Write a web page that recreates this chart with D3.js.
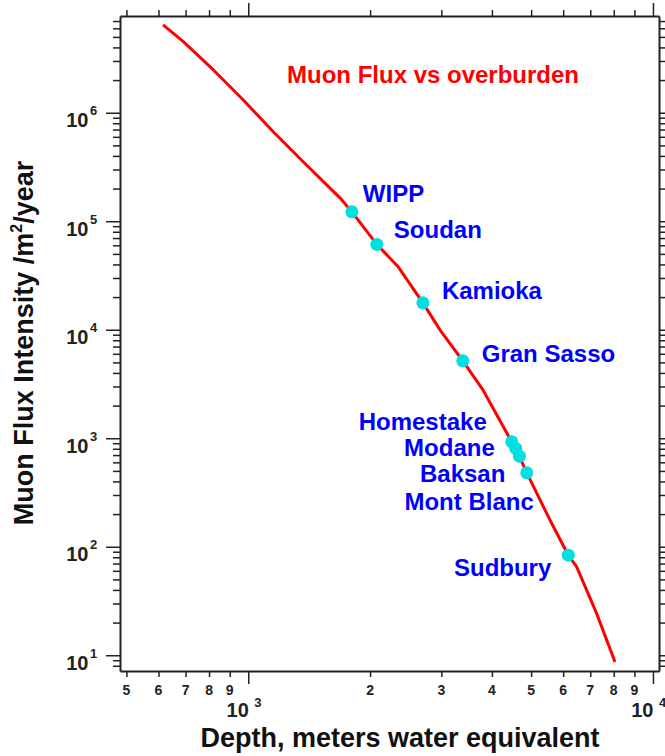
<!DOCTYPE html>
<html>
<head>
<meta charset="utf-8">
<script src="https://cdn.jsdelivr.net/npm/d3@7"></script>
<style>
  body { margin: 0; background: #fff; }
  svg { display: block; font-family: "Liberation Sans", Arial, Helvetica, sans-serif; }
</style>
</head>
<body>
<svg width="665" height="756"></svg>
<script>
// flux curve (depth in m.w.e., flux per m2 per year)
var curveDepth = [616, 691, 820, 972, 1153, 1367, 1687, 1803, 2078, 2347, 2701, 2979, 3389, 3805, 4385, 4580, 4878, 5568, 6178, 6480, 7261, 8057];
var curveFlux = [6.44e6, 4.52e6, 2.48e6, 1.31e6, 6.68e5, 3.53e5, 1.635e5, 1.22e5, 6.12e4, 3.8e4, 1.77e4, 9920, 5170, 2775, 1067, 805, 480, 175.7, 83.6, 65.2, 24.2, 8.67];

// underground labs
var siteNames = ["WIPP", "Soudan", "Kamioka", "Gran Sasso", "Homestake", "Modane", "Baksan", "Mont Blanc", "Sudbury"];
var siteDepth = [1803, 2078, 2701, 3389, 4478, 4581, 4676, 4878, 6178];
var siteFlux = [1.22e5, 6.12e4, 1.77e4, 5170, 926, 805, 684, 480, 83.6];

var xMajor = [1e3, 1e4];
var yMajor = [1e1, 1e2, 1e3, 1e4, 1e5, 1e6];

var chartTitle = "Muon Flux vs overburden";
var xTitle = "Depth, meters water equivalent";

// label placement relative to each dot (px), anchor
var labelPos = {
  "WIPP": [11, -10, "start"],
  "Soudan": [17, -6, "start"],
  "Kamioka": [19, -4, "start"],
  "Gran Sasso": [19, 1, "start"],
  "Homestake": [-25, -12, "end"],
  "Modane": [-21, 8, "end"],
  "Baksan": [-14, 26, "end"],
  "Mont Blanc": [7, 37, "end"],
  "Sudbury": [-17, 21, "end"]
};

var svg = d3.select("svg");
var margin = { top: 16, right: 6, bottom: 85, left: 120 };
var innerWidth = 665 - margin.left - margin.right;
var innerHeight = 756 - margin.top - margin.bottom;

var x = d3.scaleLog().domain([482, 10350]).range([0, innerWidth]);
var y = d3.scaleLog().domain([7.16, 7.79e6]).range([innerHeight, 0]);

var g = svg.append("g").attr("transform", `translate(${margin.left},${margin.top})`);

const isMajor = (d) => Math.abs(Math.log10(d) - Math.round(Math.log10(d))) < 1e-6;
const tickLen = (d) => (isMajor(d) ? 13 : 6);

function axisStyle(sel) {
  sel.select(".domain").attr("stroke", "#222").attr("stroke-width", 2);
  sel.selectAll(".tick line").attr("stroke", "#222").attr("stroke-width", 1.5);
  sel.selectAll(".tick text").remove();
}

var xt = x.ticks();
var yt = y.ticks();

g.append("g")
  .attr("transform", `translate(0,${innerHeight})`)
  .call(d3.axisBottom(x).tickValues(xt).tickSizeOuter(0))
  .call(axisStyle)
  .selectAll(".tick line").attr("y2", tickLen);

g.append("g")
  .call(d3.axisTop(x).tickValues(xt).tickSizeOuter(0))
  .call(axisStyle)
  .selectAll(".tick line").attr("y2", (d) => -tickLen(d));

g.append("g")
  .call(d3.axisLeft(y).tickValues(yt).tickSizeOuter(0))
  .call(axisStyle)
  .selectAll(".tick line").attr("x2", (d) => -(isMajor(d) ? 14 : 7));

g.append("g")
  .attr("transform", `translate(${innerWidth},0)`)
  .call(d3.axisRight(y).tickValues(yt).tickSizeOuter(0))
  .call(axisStyle)
  .selectAll(".tick line").attr("x2", tickLen);

// x tick labels: single digits for minor ticks, 10^n under the majors
g.selectAll(".xdigit")
  .data(xt.filter((d) => !isMajor(d)))
  .enter()
  .append("text")
  .attr("class", "xdigit")
  .attr("x", (d) => x(d))
  .attr("y", innerHeight + 24)
  .attr("text-anchor", "middle")
  .attr("font-size", 14)
  .attr("font-weight", "bold")
  .attr("fill", "#222")
  .text((d) => Math.round(d / Math.pow(10, Math.floor(Math.log10(d)))));

var xm = g.selectAll(".xmajor").data(xMajor).enter().append("g").attr("class", "xmajor");
xm.append("text")
  .attr("x", (d) => x(d) + 0.5)
  .attr("y", innerHeight + 46)
  .attr("text-anchor", "end")
  .attr("font-size", 20)
  .attr("font-weight", "bold")
  .attr("fill", "#222")
  .text("10");
xm.append("text")
  .attr("x", (d) => x(d) + 6)
  .attr("y", innerHeight + 36)
  .attr("font-size", 13)
  .attr("font-weight", "bold")
  .attr("fill", "#222")
  .text((d) => Math.round(Math.log10(d)));

var ym = g.selectAll(".ymajor").data(yMajor).enter().append("g").attr("class", "ymajor");
ym.append("text")
  .attr("x", -31.5)
  .attr("y", (d) => y(d) + 14.5)
  .attr("text-anchor", "end")
  .attr("font-size", 20)
  .attr("font-weight", "bold")
  .attr("fill", "#222")
  .text("10");
ym.append("text")
  .attr("x", -30)
  .attr("y", (d) => y(d) + 2.5)
  .attr("font-size", 13)
  .attr("font-weight", "bold")
  .attr("fill", "#222")
  .text((d) => Math.round(Math.log10(d)));

// curve
var curve = curveDepth.map((d, i) => ({ depth: d, flux: curveFlux[i] }));
var line = d3.line().x((d) => x(d.depth)).y((d) => y(d.flux));
g.append("path")
  .datum(curve)
  .attr("d", line)
  .attr("fill", "none")
  .attr("stroke", "#ff0000")
  .attr("stroke-width", 3)
  .attr("stroke-linejoin", "round");

// sites
var sites = siteNames.map((n, i) => ({ name: n, depth: siteDepth[i], flux: siteFlux[i] }));
g.selectAll("circle")
  .data(sites)
  .enter()
  .append("circle")
  .attr("cx", (d) => x(d.depth))
  .attr("cy", (d) => y(d.flux))
  .attr("r", 6.5)
  .attr("fill", "#00e0e0");

g.selectAll(".site")
  .data(sites)
  .enter()
  .append("text")
  .attr("class", "site")
  .attr("x", (d) => x(d.depth) + labelPos[d.name][0])
  .attr("y", (d) => y(d.flux) + labelPos[d.name][1])
  .attr("text-anchor", (d) => labelPos[d.name][2])
  .attr("font-size", 24)
  .attr("font-weight", "bold")
  .attr("fill", "#0000ff")
  .text((d) => d.name);

// titles
svg.append("text")
  .attr("x", 287)
  .attr("y", 83)
  .attr("font-size", 24)
  .attr("font-weight", "bold")
  .attr("fill", "#ff0000")
  .text(chartTitle);

svg.append("text")
  .attr("x", 400)
  .attr("y", 747)
  .attr("text-anchor", "middle")
  .attr("font-size", 27)
  .attr("font-weight", "bold")
  .attr("fill", "#111")
  .text(xTitle);

var yl = svg.append("text")
  .attr("transform", "translate(33,343) rotate(-90)")
  .attr("text-anchor", "middle")
  .attr("font-size", 27)
  .attr("font-weight", "bold")
  .attr("fill", "#111");
yl.append("tspan").text("Muon Flux Intensity /m");
yl.append("tspan").attr("font-size", 16).attr("dy", -11).text("2");
yl.append("tspan").attr("dy", 11).text("/year");
</script>
</body>
</html>
